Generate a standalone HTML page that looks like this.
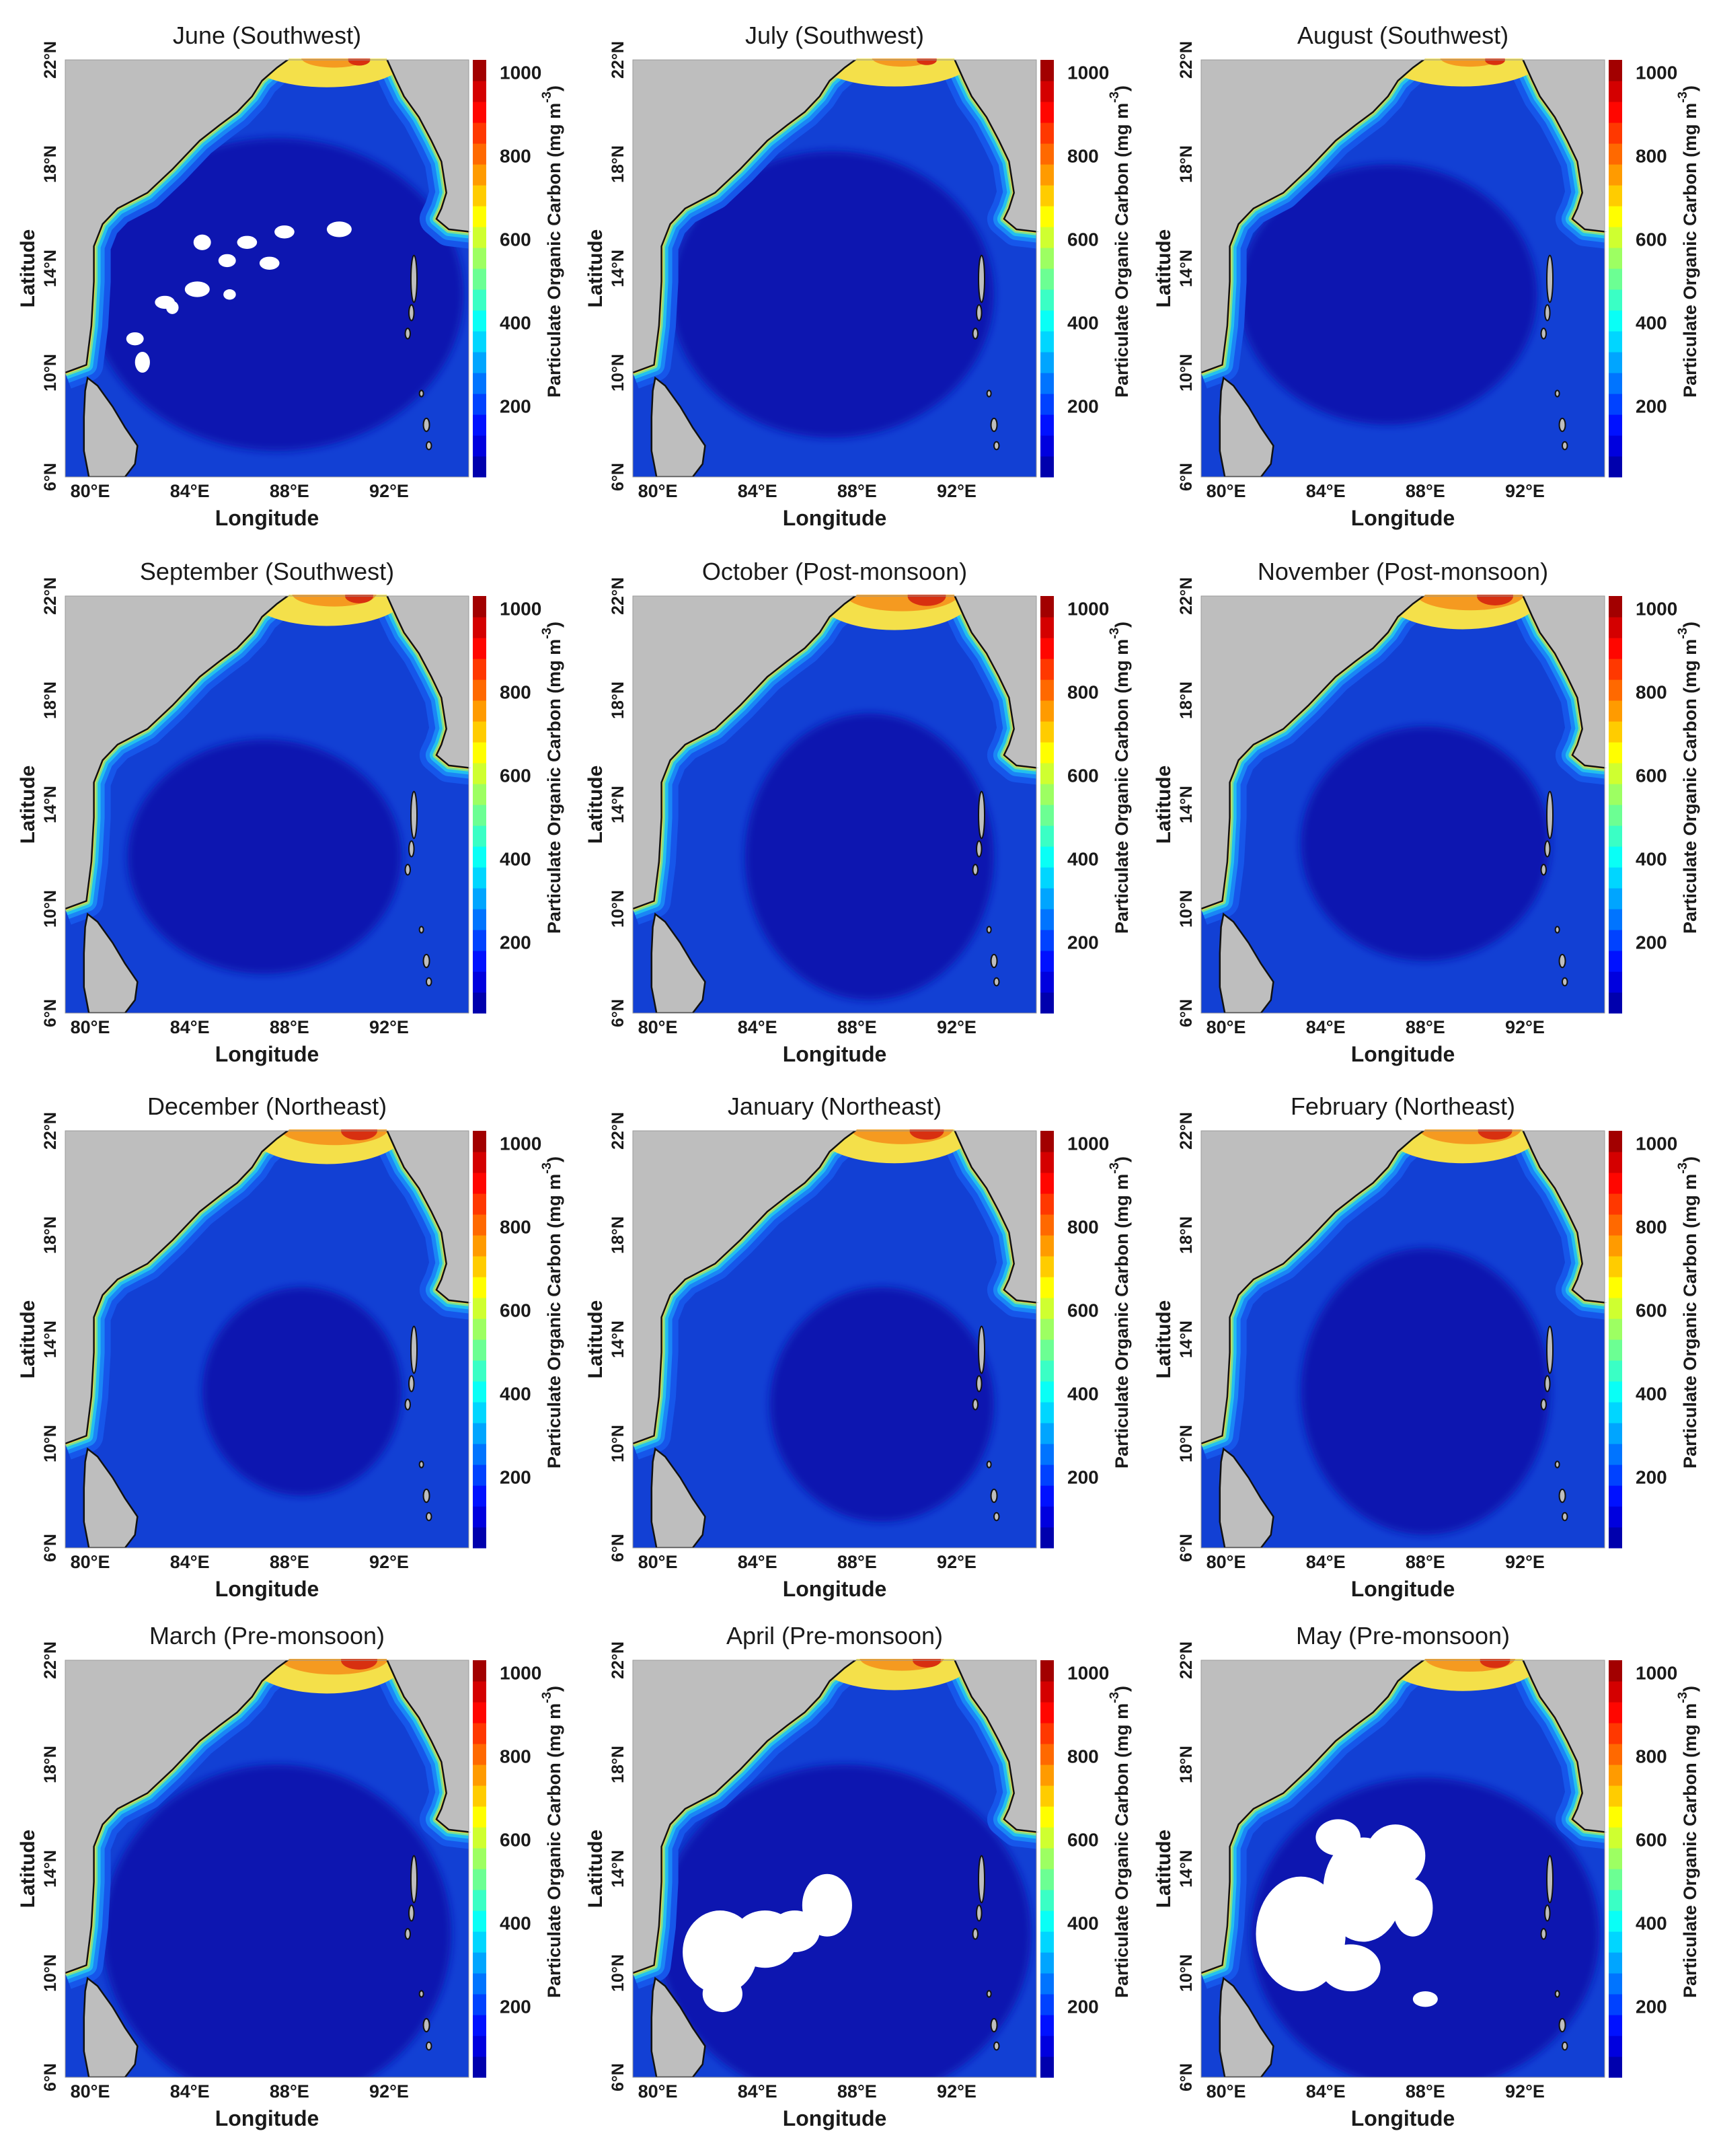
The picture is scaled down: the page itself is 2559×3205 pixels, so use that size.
<!DOCTYPE html>
<html><head><meta charset="utf-8"><style>
html,body{margin:0;padding:0;background:#fff;}
svg{display:block;}
text{font-family:"Liberation Sans",Arial,sans-serif;fill:#1a1a1a;}
</style></head><body>
<svg id="fig" xmlns="http://www.w3.org/2000/svg" width="2559" height="3205" viewBox="0 0 2559 3205"></svg>
<script>
// ---- data ----
const months = ["June (Southwest)","July (Southwest)","August (Southwest)","September (Southwest)","October (Post-monsoon)","November (Post-monsoon)","December (Northeast)","January (Northeast)","February (Northeast)","March (Pre-monsoon)","April (Pre-monsoon)","May (Pre-monsoon)"];
// north-bay coastal intensity 0..1 per month
const coastIntensity = [0.55,0.5,0.5,0.7,0.95,0.9,0.9,0.85,0.85,0.9,0.7,0.75];
// dark (low POC) core: [lon, lat, rxDeg, ryDeg]
const darkCore = [[87.5,13,7.5,6],[87,13,6.5,5.5],[86.5,13,6,5],[87,12,5.5,4.5],[88.5,12,5,5.5],[88,12.5,5,4.5],[88.5,12,4,4],[89,11.5,4.5,4.5],[88,12,5,5.5],[87.5,11.5,7,6.5],[87.5,11.5,7.5,6.5],[88,11.5,7,6]];
// cloud-masked (white) regions: [lon, lat, rxDeg, ryDeg]
const whiteJune = [[81.8,11.3,0.35,0.25],[82.1,10.4,0.3,0.4],[83,12.7,0.4,0.25],[84.3,13.2,0.5,0.3],[84.5,15,0.35,0.3],[85.5,14.3,0.35,0.25],[86.3,15,0.4,0.25],[87.2,14.2,0.4,0.25],[87.8,15.4,0.4,0.25],[90,15.5,0.5,0.3],[83.3,12.5,0.25,0.25],[85.6,13,0.25,0.2]];
const whiteApril = [[82.5,10.8,1.5,1.6],[84.3,11.3,1.3,1.1],[86.8,12.6,1.0,1.2],[85.5,11.6,1.0,0.8],[82.6,9.2,0.8,0.7]];
const whiteMay = [[83,11.5,1.8,2.2],[85.5,13.2,1.6,2.0],[86.8,14.5,1.2,1.2],[84.5,15.2,0.9,0.7],[85,10.2,1.2,0.9],[88,9,0.5,0.3],[87.5,12.5,0.8,1.1]];
const whiteSets = {0:whiteJune,10:whiteApril,11:whiteMay};
const lonTicks = [80,84,88,92];
const latTicks = [6,10,14,18,22];
const cbTicks = [200,400,600,800,1000];
const cbMin = 30, cbMax = 1030;

// ---- geometry ----
const colLeft=[97,941,1786], rowTop=[89,886,1681,2468];
const W=600,H=620, LON0=79, LON1=95.2, LAT0=6, LAT1=22;
const coast=[[79,10.0],[79.85,10.3],[80.05,11.8],[80.15,13.5],[80.15,14.85],[80.5,15.7],[81.1,16.3],[82.3,16.9],[83.3,17.8],[84.4,18.9],[85.2,19.5],[85.9,20.0],[86.5,20.6],[86.9,21.2],[87.5,21.7],[88,22.05]];
const coastR=[[91.9,22.05],[92.3,21.2],[92.6,20.6],[93.2,19.8],[93.7,18.9],[94.1,18.1],[94.3,16.9],[94.1,16.3],[93.9,15.9],[94.4,15.5],[95.3,15.4]];
const lanka=[[79.9,9.8],[80.3,9.5],[80.9,8.7],[81.4,7.9],[81.9,7.2],[81.8,6.5],[81.4,6],[79.95,6],[79.75,7],[79.75,8.3],[79.8,9.3]];
const islands=[[93,13.6,0.12,0.9],[92.9,12.3,0.1,0.3],[92.75,11.5,0.1,0.2],[93.5,8,0.12,0.25],[93.3,9.2,0.08,0.12],[93.6,7.2,0.1,0.15]];

function jet(t){
  const r=Math.min(1,Math.max(0,1.5-Math.abs(4*t-3)));
  const g=Math.min(1,Math.max(0,1.5-Math.abs(4*t-2)));
  const b=Math.min(1,Math.max(0,1.5-Math.abs(4*t-1)));
  return `rgb(${Math.round(r*255)},${Math.round(g*255)},${Math.round(b*255)})`;
}
const NS="http://www.w3.org/2000/svg";
const svg=document.getElementById('fig');
function mk(tag,attrs,parent){const e=document.createElementNS(NS,tag);for(const k in attrs)e.setAttribute(k,attrs[k]);(parent||svg).appendChild(e);return e;}

months.forEach((title,i)=>{
  const L=colLeft[i%3], T=rowTop[Math.floor(i/3)];
  const sx=lon=>L+(lon-LON0)/(LON1-LON0)*W;
  const sy=lat=>T+(LAT1-lat)/(LAT1-LAT0)*H;
  const pts=a=>a.map(p=>sx(p[0]).toFixed(1)+','+sy(p[1]).toFixed(1)).join(' ');
  const g=mk('g',{});
  
  

  const cid='clip'+i;
  const defs=mk('defs',{},g);
  const cp=mk('clipPath',{id:cid},defs);
  const oceanPts=[[79,6],...coast,...coastR,[95.2,15.4],[95.2,6]];
  mk('polygon',{points:pts(oceanPts)},cp);
  const bc=mk('clipPath',{id:'box'+i},defs);
  mk('rect',{x:L,y:T,width:W,height:H},bc);
  const fid='blur'+i;
  const f=mk('filter',{id:fid,x:'-20%',y:'-20%',width:'140%',height:'140%'},defs);
  mk('feGaussianBlur',{stdDeviation:6},f);

  const land=mk('rect',{x:L,y:T,width:W,height:H,fill:'#bebebe'},g);
  
  

  const og=mk('g',{'clip-path':`url(#${cid})`},g);
  
  
  mk('rect',{x:L,y:T,width:W,height:H,fill:'#1240d4'},og);
  const dc=darkCore[i];
  mk('ellipse',{cx:sx(dc[0]),cy:sy(dc[1]),rx:dc[2]/(LON1-LON0)*W,ry:dc[3]/16*H,fill:'#0a16b0',filter:`url(#${fid})`},og);
  const ci=coastIntensity[i];
  const lineA=pts(coast), lineB=pts(coastR);
  [[50,'#1656ea'],[32,'#1a86f6'],[20,'#22c0f0'],[11,'#7ee08e'],[5,'#f2d84a']].forEach(([w,c])=>{
    mk('polyline',{points:lineA,fill:'none',stroke:c,'stroke-width':w,'stroke-linejoin':'round'},og);
    mk('polyline',{points:lineB,fill:'none',stroke:c,'stroke-width':w,'stroke-linejoin':'round'},og);
  });
  mk('ellipse',{cx:sx(89.5),cy:sy(22.1),rx:W*0.2,ry:H*(0.05+0.04*ci),fill:'#f4e04a'},og);
  mk('ellipse',{cx:sx(89.8),cy:sy(22.1),rx:W*0.15*ci,ry:H*0.045*ci,fill:'#f59a20'},og);
  mk('ellipse',{cx:sx(90.8),cy:sy(22.0),rx:W*0.05*ci,ry:H*0.025*ci,fill:'#d83010'},og);
  (whiteSets[i]||[]).forEach(b=>{
    const e=mk('ellipse',{cx:sx(b[0]),cy:sy(b[1]),rx:b[2]/(LON1-LON0)*W,ry:b[3]/16*H,fill:'#ffffff'},og);
    
    
  });
  mk('polyline',{points:lineA,fill:'none',stroke:'#111','stroke-width':2.5,'clip-path':`url(#box${i})`},g);
  mk('polyline',{points:lineB,fill:'none',stroke:'#111','stroke-width':2.5,'clip-path':`url(#box${i})`},g);
  const sl=mk('polygon',{points:pts(lanka),fill:'#bebebe',stroke:'#111','stroke-width':2.5,'clip-path':`url(#box${i})`},g);
  
  
  islands.forEach(s=>{mk('ellipse',{cx:sx(s[0]),cy:sy(s[1]),rx:s[2]/16*W,ry:s[3]/16*H,fill:'#bebebe',stroke:'#111','stroke-width':2},g);});
  mk('rect',{x:L,y:T,width:W,height:H,fill:'none',stroke:'#999','stroke-width':1},g);

  const tt=mk('text',{x:L+W/2,y:T-24,'text-anchor':'middle','font-size':36},g);
  tt.textContent=title;
  
  
  lonTicks.forEach(v=>{
    const t=mk('text',{x:sx(v),y:T+H+30,'text-anchor':'middle','font-size':27,'font-weight':'bold'},g);
    t.textContent=v+'°E';
    
    
  });
  const xl=mk('text',{x:L+W/2,y:T+H+72,'text-anchor':'middle','font-size':32,'font-weight':'bold'},g);
  xl.textContent='Longitude';
  
  
  latTicks.forEach(v=>{
    const y=sy(v), x=L-14;
    const t=mk('text',{x:x,y:y,'text-anchor':'middle','font-size':25,'font-weight':'bold',transform:`rotate(-90 ${x} ${y})`},g);
    t.textContent=v+'°N';
    
    
  });
  const yx=L-46, yy=T+H/2;
  const yl=mk('text',{x:yx,y:yy,'text-anchor':'middle','font-size':30,'font-weight':'bold',transform:`rotate(-90 ${yx} ${yy})`},g);
  yl.textContent='Latitude';
  
  

  const cbx=L+W+6, cbw=20;
  const cb=mk('g',{},g);
  
  
  const nb=20;
  for(let k=0;k<nb;k++){
    const y0=T+H-(k+1)*H/nb;
    mk('rect',{x:cbx,y:y0,width:cbw,height:H/nb+0.6,fill:jet((k+0.5)/nb*0.97+0.02)},cb);
  }
  const cy=v=>T+H-(v-cbMin)/(cbMax-cbMin)*H;
  cbTicks.forEach(v=>{
    const t=mk('text',{x:cbx+cbw+20,y:cy(v)+10,'font-size':28,'font-weight':'bold'},cb);
    t.textContent=v;
    
    
  });
  const lx=cbx+130, ly=T+H/2-40;
  const lab=mk('text',{x:lx,y:ly,'text-anchor':'middle','font-size':27,'font-weight':'bold',transform:`rotate(-90 ${lx} ${ly})`},cb);
  lab.innerHTML='Particulate Organic Carbon (mg m<tspan dy="-14" font-size="19">-3</tspan><tspan dy="14">)</tspan>';
  
  
});
</script>
</body></html>
